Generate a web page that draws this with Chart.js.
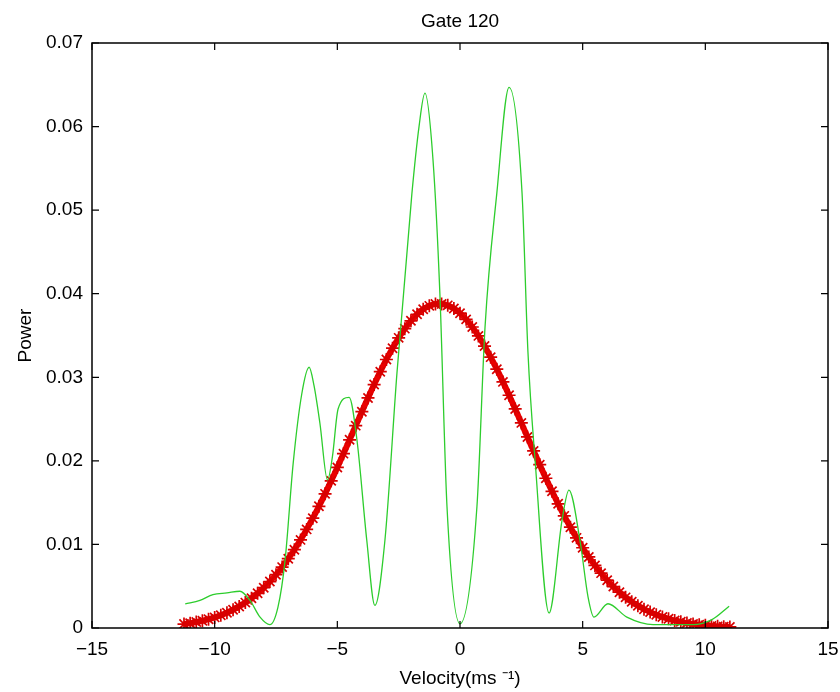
<!DOCTYPE html>
<html>
<head>
<meta charset="utf-8">
<title>Gate 120</title>
<script src="https://cdn.jsdelivr.net/npm/chart.js@4.4.1/dist/chart.umd.min.js"></script>
<style>
  html, body { margin: 0; padding: 0; background: #fff; }
  #wrap { width: 840px; height: 692px; }
</style>
</head>
<body>
<div id="wrap"><canvas id="chart" width="840" height="692"></canvas></div>
<script>
// measured spectrum (green line)
const specVel = [-11.2, -10.6, -10.07, -9.5, -8.97, -8.56, -8.15, -7.75, -7.42, -7.13,
  -6.8, -6.45, -6.15, -5.95, -5.71, -5.4, -5.2, -4.97, -4.52, -4.2,
  -3.8, -3.47, -3.06, -2.57, -1.96, -1.67, -1.43, -1.1, -0.82, -0.53,
  0, 0.69, 1.02, 1.5, 2.0, 2.53, 2.77, 3.06, 3.63, 4.16,
  4.44, 4.89, 5.22, 5.46, 6.03, 6.8, 7.87, 8.7, 9.5, 10.27, 10.97];
const specPower = [0.0029, 0.0033, 0.0040, 0.0042, 0.0044, 0.0033, 0.0013, 0.0004, 0.0025, 0.0081,
  0.0197, 0.0280, 0.0312, 0.0290, 0.0245, 0.0177, 0.0205, 0.0262, 0.0276, 0.0225,
  0.0105, 0.0027, 0.0105, 0.0305, 0.0520, 0.0600, 0.0640, 0.0560, 0.0400, 0.0145,
  0.0005, 0.0145, 0.0360, 0.0520, 0.0647, 0.0520, 0.0330, 0.0201, 0.0018, 0.0129,
  0.0165, 0.0105, 0.0037, 0.0013, 0.0029, 0.0013, 0.0004, 0.0004, 0.0004, 0.0010, 0.0026];

// fitted curve (red asterisks)
const fitVel = [-11.25, -11.0, -10.75, -10.5, -10.25, -10.0, -9.75, -9.5, -9.25, -9.0,
  -8.75, -8.5, -8.25, -8.0, -7.75, -7.5, -7.25, -7.0, -6.75, -6.5,
  -6.25, -6.0, -5.75, -5.5, -5.25, -5.0, -4.75, -4.5, -4.25, -4.0,
  -3.75, -3.5, -3.25, -3.0, -2.75, -2.5, -2.25, -2.0, -1.75, -1.5,
  -1.25, -1.0, -0.75, -0.5, -0.25, 0, 0.25, 0.5, 0.75, 1.0,
  1.25, 1.5, 1.75, 2.0, 2.25, 2.5, 2.75, 3.0, 3.25, 3.5,
  3.75, 4.0, 4.25, 4.5, 4.75, 5.0, 5.25, 5.5, 5.75, 6.0,
  6.25, 6.5, 6.75, 7.0, 7.25, 7.5, 7.75, 8.0, 8.25, 8.5,
  8.75, 9.0, 9.25, 9.5, 9.75, 10.0, 10.25, 10.5, 10.75, 11.0];
const fitPower = [0.00047, 0.00058, 0.00071, 0.00087, 0.00105, 0.00127, 0.00153, 0.00183, 0.00218, 0.00258,
  0.00304, 0.00356, 0.00415, 0.00482, 0.00556, 0.00638, 0.00729, 0.00829, 0.00937, 0.01054,
  0.01180, 0.01314, 0.01456, 0.01605, 0.01761, 0.01921, 0.02086, 0.02252, 0.02421, 0.02588,
  0.02753, 0.02913, 0.03067, 0.03213, 0.03348, 0.03472, 0.03582, 0.03676, 0.03754, 0.03814,
  0.03855, 0.03877, 0.03878, 0.03861, 0.03823, 0.03767, 0.03693, 0.03602, 0.03495, 0.03374,
  0.03241, 0.03097, 0.02945, 0.02785, 0.02621, 0.02454, 0.02286, 0.02119, 0.01954, 0.01792,
  0.01636, 0.01486, 0.01342, 0.01206, 0.01079, 0.00960, 0.00850, 0.00749, 0.00656, 0.00572,
  0.00496, 0.00428, 0.00367, 0.00314, 0.00267, 0.00225, 0.00190, 0.00159, 0.00132, 0.00110,
  0.00090, 0.00074, 0.00060, 0.00049, 0.00040, 0.00032, 0.00025, 0.00020, 0.00016, 0.00013];

const xTickLabels = ["\u221215", "\u221210", "\u22125", "0", "5", "10", "15"];
const yTickLabels = ["0", "0.01", "0.02", "0.03", "0.04", "0.05", "0.06", "0.07"];
const chartTitle = "Gate 120";

const FONT = { family: "'Liberation Sans', Arial, Helvetica, sans-serif", size: 19 };

// box around the axes with inward ticks and the title over the plot, like matlab
const axesBox = {
  id: "axesBox",
  afterDraw(chart) {
    const { ctx, chartArea: a, scales } = chart;
    const len = 7;
    ctx.save();
    ctx.strokeStyle = "#000";
    ctx.lineWidth = 1.5;
    ctx.strokeRect(a.left, a.top, a.right - a.left, a.bottom - a.top);
    ctx.lineWidth = 1.2;
    ctx.beginPath();
    scales.x.ticks.forEach((t) => {
      const px = scales.x.getPixelForValue(t.value);
      ctx.moveTo(px, a.bottom); ctx.lineTo(px, a.bottom - len);
      ctx.moveTo(px, a.top); ctx.lineTo(px, a.top + len);
    });
    scales.y.ticks.forEach((t) => {
      const py = scales.y.getPixelForValue(t.value);
      ctx.moveTo(a.left, py); ctx.lineTo(a.left + len, py);
      ctx.moveTo(a.right, py); ctx.lineTo(a.right - len, py);
    });
    ctx.stroke();

    ctx.fillStyle = "#000";
    ctx.font = FONT.size + "px " + FONT.family;
    ctx.textAlign = "center";
    ctx.textBaseline = "middle";
    ctx.fillText(chartTitle, (a.left + a.right) / 2, 22);
    ctx.restore();
  },
};

new Chart(document.getElementById("chart"), {
  type: "scatter",
  data: {
    datasets: [
      {
        label: "spectrum",
        data: specVel.map((v, i) => ({ x: v, y: specPower[i] })),
        showLine: true,
        borderColor: "rgb(45, 205, 45)",
        borderWidth: 1.3,
        pointRadius: 0,
        cubicInterpolationMode: "monotone",
        order: 0,
      },
      {
        label: "fit",
        data: fitVel.map((v, i) => ({ x: v, y: fitPower[i] })),
        showLine: true,
        borderColor: "rgb(235, 0, 0)",
        borderWidth: 6,
        pointStyle: "star",
        pointRadius: 6.5,
        pointBorderColor: "rgb(215, 0, 0)",
        pointBorderWidth: 1.7,
        tension: 0.3,
        order: 1,
      },
    ],
  },
  options: {
    responsive: false,
    animation: false,
    layout: { padding: { left: 0, right: 12, top: 43, bottom: 0 } },
    plugins: {
      legend: { display: false },
      tooltip: { enabled: false },
      title: { display: false },
    },
    scales: {
      x: {
        type: "linear",
        min: -15,
        max: 15,
        afterFit: (s) => { s.height = 64; s.paddingLeft = 0; s.paddingRight = 0; },
        grid: { display: false, drawTicks: false },
        border: { display: false },
        ticks: {
          stepSize: 5,
          padding: 10,
          color: "#000",
          font: FONT,
          maxRotation: 0,
          callback: (v, i) => xTickLabels[i],
        },
        title: {
          display: true,
          text: "Velocity(ms \u207B\u00B9)",
          color: "#000",
          font: FONT,
          padding: { top: 2, bottom: 2 },
        },
      },
      y: {
        type: "linear",
        min: 0,
        max: 0.07,
        afterFit: (s) => { s.width = 92; s.paddingTop = 0; s.paddingBottom = 0; },
        grid: { display: false, drawTicks: false },
        border: { display: false },
        ticks: {
          stepSize: 0.01,
          padding: 9,
          color: "#000",
          font: FONT,
          callback: (v, i) => yTickLabels[i],
        },
        title: {
          display: true,
          text: "Power",
          color: "#000",
          font: FONT,
          padding: { top: 14, bottom: 0 },
        },
      },
    },
  },
  plugins: [axesBox],
});
</script>
</body>
</html>
